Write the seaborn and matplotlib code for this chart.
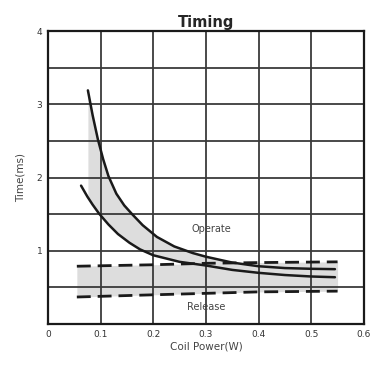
import numpy as np
import pandas as pd
import seaborn as sns
import matplotlib.pyplot as plt

# Operate time band (two solid curves)
op_hi_x = [0.076, 0.085, 0.095, 0.105, 0.115, 0.13, 0.145, 0.16, 0.18, 0.207, 0.24, 0.275, 0.30, 0.35, 0.40, 0.45, 0.50, 0.545]
op_hi_y = [3.19, 2.85, 2.52, 2.25, 2.02, 1.78, 1.62, 1.5, 1.35, 1.19, 1.06, 0.97, 0.92, 0.84, 0.79, 0.765, 0.755, 0.75]
op_lo_x = [0.063, 0.075, 0.085, 0.097, 0.115, 0.133, 0.155, 0.175, 0.20, 0.25, 0.30, 0.35, 0.40, 0.45, 0.50, 0.545]
op_lo_y = [1.89, 1.74, 1.63, 1.51, 1.36, 1.23, 1.11, 1.02, 0.94, 0.85, 0.80, 0.74, 0.70, 0.67, 0.65, 0.64]

# Release time band (two dashed lines)
rel_x = [0.055, 0.2, 0.3, 0.4, 0.55]
rel_hi_y = [0.79, 0.81, 0.83, 0.84, 0.85]
rel_lo_y = [0.37, 0.40, 0.42, 0.44, 0.45]

x_ticks = [0, 0.1, 0.2, 0.3, 0.4, 0.5, 0.6]
x_labels = ["0", "0.1", "0.2", "0.3", "0.4", "0.5", "0.6"]
y_ticks = [1, 2, 3, 4]

sns.set_style("white")
plt.rcParams['font.family'] = ['DejaVu Sans']

fig = plt.figure(figsize=(3.74, 3.65), dpi=100)
ax = fig.add_axes([0.128, 0.112, 0.845, 0.803])

# grey shading between the curves
xs = np.linspace(op_hi_x[0], op_hi_x[-1], 200)
ax.fill_between(xs, np.interp(xs, op_lo_x, op_lo_y), np.interp(xs, op_hi_x, op_hi_y),
                color="#dddddd", lw=0, zorder=1)
ax.fill_between(rel_x, rel_lo_y, rel_hi_y, color="#dddddd", lw=0, zorder=1)

# grid
for gx in np.arange(0.1, 0.6, 0.1):
    ax.axvline(gx, color="#3a3a3a", lw=1.3, zorder=2)
for gy in np.arange(0.5, 4.0, 0.5):
    ax.axhline(gy, color="#3a3a3a", lw=1.3, zorder=2)

sns.lineplot(x=op_hi_x, y=op_hi_y, ax=ax, color="#1a1a1a", lw=1.8, zorder=3)
sns.lineplot(x=op_lo_x, y=op_lo_y, ax=ax, color="#1a1a1a", lw=1.8, zorder=3)
sns.lineplot(x=rel_x, y=rel_hi_y, ax=ax, color="#1a1a1a", lw=2.0,
             linestyle=(0, (5, 2.5)), zorder=3)
sns.lineplot(x=rel_x, y=rel_lo_y, ax=ax, color="#1a1a1a", lw=2.0,
             linestyle=(0, (5, 2.5)), zorder=3)

ax.text(0.31, 1.3, "Operate", fontsize=7, color="#444444", ha="center", va="center", zorder=4)
ax.text(0.30, 0.24, "Release", fontsize=7, color="#444444", ha="center", va="center", zorder=4)

ax.set_xlim(0, 0.6)
ax.set_ylim(0, 4)
ax.set_xticks(x_ticks)
ax.set_xticklabels(x_labels)
ax.set_yticks(y_ticks)
ax.tick_params(axis="both", labelsize=6.5, colors="#333333", length=0, pad=4)
for s in ax.spines.values():
    s.set_color("#1a1a1a")
    s.set_linewidth(1.6)

ax.set_title("Timing", fontsize=10.5, fontweight="bold", pad=3)
ax.set_xlabel("Coil Power(W)", fontsize=7.5, color="#444444", labelpad=2)
ax.set_ylabel("Time(ms)", fontsize=7.5, color="#444444", labelpad=8)

fig.savefig("out.png", dpi=100)
